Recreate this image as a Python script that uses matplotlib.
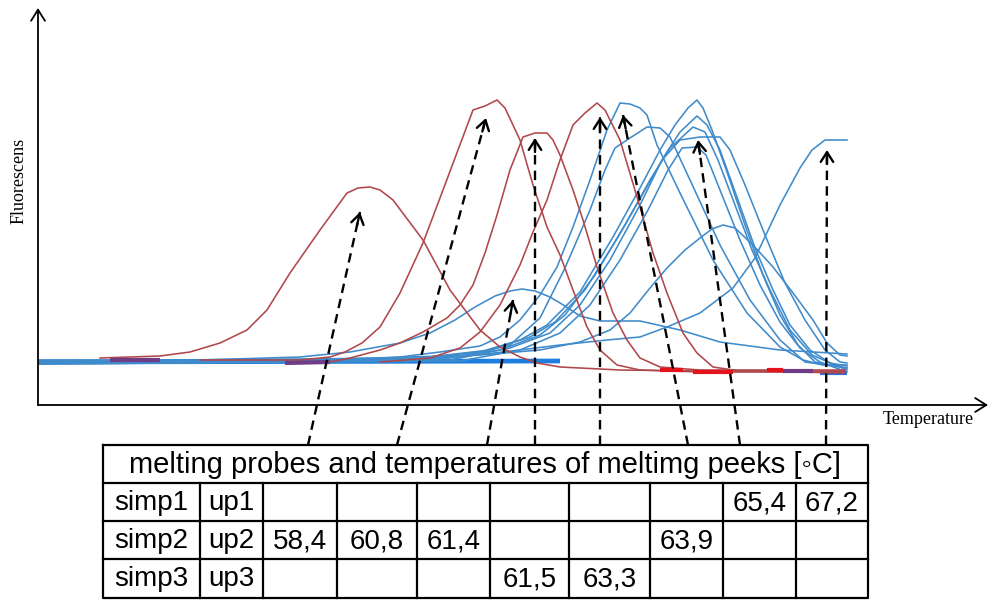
import matplotlib
matplotlib.use("Agg")
import matplotlib.pyplot as plt
import numpy as np

plt.rcParams['font.family'] = ['Liberation Sans', 'DejaVu Sans']

# melting curves, temperature in arbitrary units, fluorescence in arbitrary units
# red: simp2 / up2 probe
red1_t = [100, 160, 190, 220, 247, 267, 290, 320, 347, 358, 370, 380, 393, 423, 450, 480, 500, 520, 537, 560, 620, 700, 845]
red1_f = [47, 49, 53, 62, 75, 95, 132, 175, 212, 217, 218, 215, 205, 165, 115, 75, 58, 48, 42, 38, 35, 34, 34]
red2_t = [200, 300, 330, 345, 362, 380, 400, 423, 443, 458, 473, 485, 497, 505, 520, 533, 547, 560, 573, 587, 600, 617, 640, 700, 845]
red2_f = [45, 45, 48, 53, 62, 78, 112, 162, 215, 255, 295, 299, 305, 297, 265, 220, 178, 150, 115, 78, 55, 40, 35, 33, 33]
red3_t = [330, 350, 380, 400, 423, 447, 460, 473, 485, 497, 510, 523, 535, 547, 553, 560, 573, 583, 597, 613, 627, 640, 660, 700, 845]
red3_f = [43, 47, 55, 62, 73, 87, 100, 120, 152, 190, 235, 268, 272, 272, 265, 250, 215, 185, 138, 92, 65, 47, 38, 35, 35]
red4_t = [380, 430, 460, 480, 500, 520, 533, 547, 560, 573, 585, 597, 605, 620, 640, 653, 667, 683, 697, 713, 740, 845]
red4_f = [43, 47, 57, 73, 100, 140, 173, 205, 245, 280, 292, 302, 295, 265, 198, 152, 112, 72, 52, 38, 34, 32]

# blue: simp1 / up1 and simp3 / up3 probes
blue1_t = [38, 200, 300, 350, 400, 430, 455, 475, 495, 510, 522, 535, 550, 565, 580, 600, 640, 680, 720, 780, 847]
blue1_f = [43, 45, 48, 53, 62, 72, 85, 98, 109, 114, 116, 114, 108, 99, 89, 84, 84, 75, 63, 55, 51]
blue2_t = [38, 350, 400, 440, 480, 500, 520, 540, 557, 573, 590, 607, 620, 630, 640, 647, 657, 680, 713, 747, 780, 803, 823, 847]
blue2_f = [43, 45, 48, 53, 59, 68, 85, 110, 138, 178, 225, 275, 302, 301, 297, 290, 260, 212, 145, 92, 58, 45, 40, 40]
blue3_t = [38, 400, 470, 510, 540, 565, 590, 605, 615, 630, 647, 660, 670, 690, 720, 750, 780, 805, 847]
blue3_f = [43, 45, 50, 60, 87, 137, 195, 235, 257, 267, 278, 277, 268, 225, 160, 105, 65, 43, 37]
blue4_t = [38, 400, 480, 520, 547, 580, 613, 640, 660, 675, 688, 697, 703, 712, 727, 745, 763, 780, 798, 815, 847]
blue4_f = [42, 45, 53, 65, 80, 113, 168, 217, 255, 280, 297, 305, 297, 275, 233, 180, 130, 90, 60, 43, 37]
blue5_t = [38, 420, 490, 530, 555, 585, 618, 645, 665, 680, 697, 707, 720, 738, 755, 773, 790, 810, 830, 847]
blue5_f = [44, 47, 55, 68, 83, 115, 168, 215, 250, 273, 289, 280, 255, 205, 157, 115, 80, 55, 42, 39]
blue6_t = [38, 430, 500, 540, 565, 595, 625, 650, 670, 693, 705, 718, 735, 752, 770, 790, 812, 847]
blue6_f = [42, 45, 55, 70, 90, 130, 180, 225, 257, 278, 273, 245, 200, 155, 115, 75, 50, 35]
blue7_t = [38, 450, 510, 550, 580, 610, 640, 662, 680, 700, 720, 730, 745, 765, 785, 805, 825, 840, 847]
blue7_f = [43, 45, 57, 72, 100, 145, 200, 245, 265, 268, 268, 255, 220, 170, 122, 85, 55, 43, 42]
blue8_t = [38, 460, 520, 560, 590, 620, 648, 668, 682, 697, 706, 722, 740, 760, 780, 800, 820, 847]
blue8_f = [41, 44, 55, 72, 100, 145, 195, 235, 257, 258, 250, 210, 165, 120, 83, 57, 43, 33]
blue9_t = [38, 300, 480, 540, 580, 610, 630, 650, 667, 685, 700, 712, 723, 735, 753, 773, 793, 813, 827, 840, 847]
blue9_f = [45, 45, 50, 55, 63, 75, 92, 117, 137, 155, 167, 176, 180, 177, 160, 138, 112, 85, 62, 50, 49]
blue10_t = [38, 300, 450, 520, 560, 607, 640, 667, 700, 733, 755, 780, 800, 812, 825, 847]
blue10_f = [41, 43, 47, 55, 60, 65, 68, 78, 92, 117, 147, 200, 237, 255, 265, 265]

red_curves = [(red1_t, red1_f), (red2_t, red2_f), (red3_t, red3_f), (red4_t, red4_f)]
blue_curves = [(blue1_t, blue1_f), (blue2_t, blue2_f), (blue3_t, blue3_f), (blue4_t, blue4_f),
               (blue5_t, blue5_f), (blue6_t, blue6_f), (blue7_t, blue7_f), (blue8_t, blue8_f),
               (blue9_t, blue9_f), (blue10_t, blue10_f)]

# overlapping baseline bands (several traces on top of each other)
base_blue_t = [38, 560]
base_blue_f = [43, 44]
base_purple_t = [[110, 160], [285, 330], [783, 813]]
base_purple_f = [[45, 45], [42, 43], [34, 34]]
tail_red_t = [[660, 683], [693, 733], [767, 783]]
tail_red_f = [[35, 35], [33, 33], [35, 35]]
end_blue_t = [820, 847]
end_blue_f = [32, 32]

# arrows from table columns to the melting peaks
arrow_tip_t = [360, 486, 513, 535, 600, 623, 698, 827]
arrow_tip_f = [193, 287, 105, 267, 288, 290, 265, 255]
arrow_base_t = [308, 397, 487, 535, 600, 688, 740, 826]
arrow_base_f = -40

# table
table_title = 'melting probes and temperatures of meltimg peeks [\u25e6C]'
row_labels = ['simp1', 'simp2', 'simp3']
probe_labels = ['up1', 'up2', 'up3']
melting_temps = [
    ['', '', '', '', '', '', '65,4', '67,2'],
    ['58,4', '60,8', '61,4', '', '', '63,9', '', ''],
    ['', '', '', '61,5', '63,3', '', '', ''],
]

W, H = 998, 601
RED = '#b0474b'
BLUE = '#3f8bcb'

fig = plt.figure(figsize=(W / 100, H / 100), dpi=100)
ax = fig.add_axes([38 / W, (H - 405) / H, 950 / W, 397 / H])
ax.set_xlim(38, 988)
ax.set_ylim(0, 397)
ax.axis('off')

ax.plot(base_blue_t, base_blue_f, color='#1e7ee0', lw=3.4, solid_capstyle='butt', zorder=1)
for t, f in blue_curves:
    ax.plot(t, f, color=BLUE, lw=1.15, zorder=2)
for t, f in red_curves:
    ax.plot(t, f, color=RED, lw=1.15, zorder=3)
for t, f in zip(base_purple_t, base_purple_f):
    ax.plot(t, f, color='#6e3d86', lw=3.0, solid_capstyle='butt', zorder=3)
for t, f in zip(tail_red_t, tail_red_f):
    ax.plot(t, f, color='#e3141c', lw=3.0, solid_capstyle='butt', zorder=3)
ax.plot(end_blue_t, end_blue_f, color='#2a6fd6', lw=3.0, solid_capstyle='butt', zorder=2)

# axes with arrow heads
ax_arrow = dict(arrowstyle='->,head_length=0.8,head_width=0.5', lw=1.3, color='black',
                shrinkA=0, shrinkB=0)
ax.annotate('', xy=(0, 1), xytext=(0, 0), xycoords='axes fraction', arrowprops=ax_arrow,
            annotation_clip=False)
ax.annotate('', xy=(1, 0), xytext=(0, 0), xycoords='axes fraction', arrowprops=ax_arrow,
            annotation_clip=False)

fig.text(19 / W, 1 - 181 / H, 'Fluorescens', rotation=90, ha='center', va='center',
         family='Liberation Serif', fontsize=13)
fig.text(928 / W, 1 - 420 / H, 'Temperature', ha='center', va='center',
         family='Liberation Serif', fontsize=13)

# dashed arrows
for bt, tt, tf in zip(arrow_base_t, arrow_tip_t, arrow_tip_f):
    ax.plot([bt, tt], [arrow_base_f, tf], color='black', lw=1.7, ls=(0, (4, 2.6)),
            clip_on=False, zorder=5)
    d = np.hypot(bt - tt, arrow_base_f - tf)
    back = (tt + (bt - tt) * 14 / d, tf + (arrow_base_f - tf) * 14 / d)
    ax.annotate('', xy=(tt, tf), xytext=back,
                arrowprops=dict(arrowstyle='->,head_length=0.7,head_width=0.45',
                                lw=1.7, color='black', shrinkA=0, shrinkB=0),
                annotation_clip=False, zorder=5)

# table drawn in pixel space
tab = fig.add_axes([0, 0, 1, 1])
tab.set_xlim(0, W)
tab.set_ylim(H, 0)
tab.axis('off')
col_edges = [103, 200, 263, 337, 417, 490, 569, 650, 723, 796, 868]
row_edges = [445, 483, 521, 559, 598]
lw_t = 1.6
tab.plot([col_edges[0], col_edges[-1], col_edges[-1], col_edges[0], col_edges[0]],
         [row_edges[0], row_edges[0], row_edges[-1], row_edges[-1], row_edges[0]],
         color='black', lw=lw_t)
for y in row_edges[1:-1]:
    tab.plot([col_edges[0], col_edges[-1]], [y, y], color='black', lw=lw_t)
for x in col_edges[1:-1]:
    tab.plot([x, x], [row_edges[1], row_edges[-1]], color='black', lw=lw_t)

tab.text((col_edges[0] + col_edges[-1]) / 2, (row_edges[0] + row_edges[1]) / 2 + 1, table_title,
         ha='center', va='center', fontsize=21)
for i in range(3):
    yc = (row_edges[i + 1] + row_edges[i + 2]) / 2 + 1
    cells = [row_labels[i], probe_labels[i]] + melting_temps[i]
    for j, txt in enumerate(cells):
        if txt:
            tab.text((col_edges[j] + col_edges[j + 1]) / 2, yc, txt, ha='center', va='center',
                     fontsize=20)

fig.savefig('out.png', dpi=100)
